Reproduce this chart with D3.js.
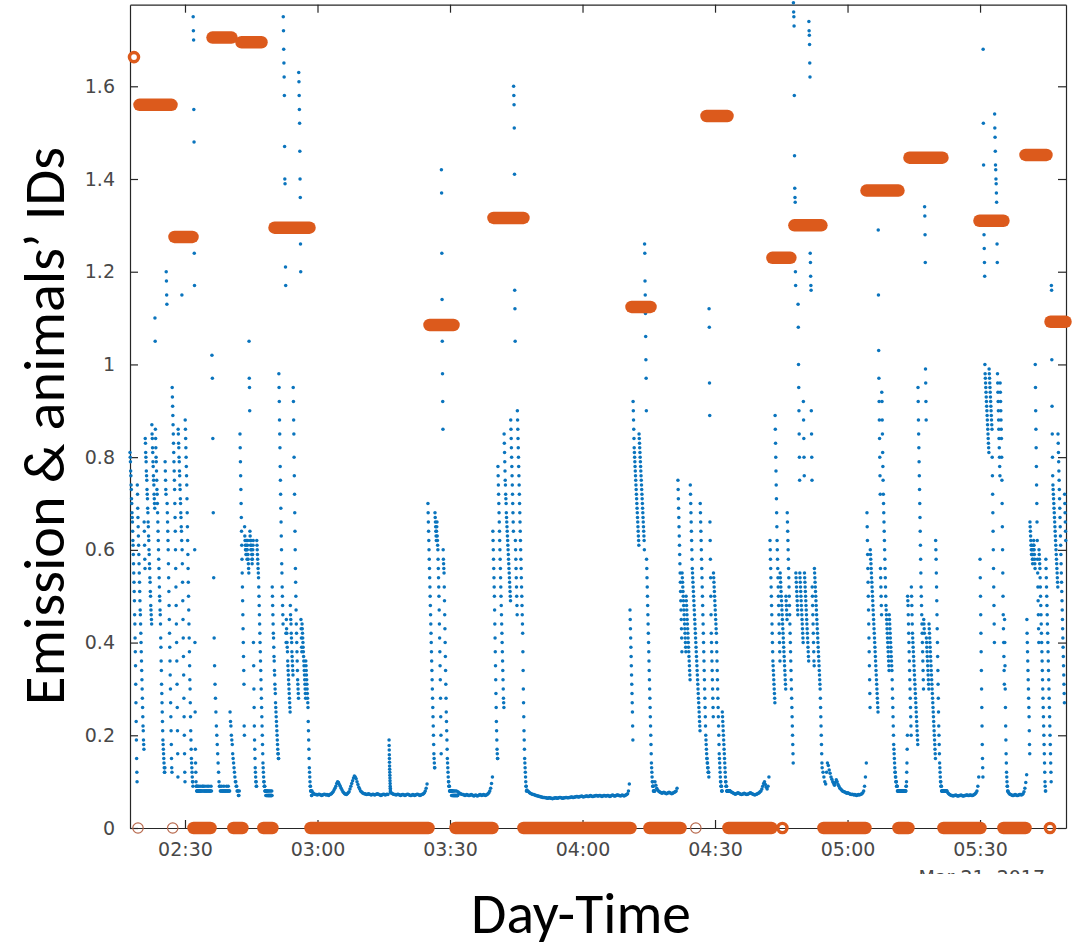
<!DOCTYPE html>
<html><head><meta charset="utf-8">
<script src="https://cdn.jsdelivr.net/npm/d3@7"></script>
<style>html,body{margin:0;padding:0;background:#fff;}svg{display:block;}</style>
</head><body>
<svg id="chart" width="1079" height="951"></svg>
<script>
// ---------------- DATA ----------------
// time in minutes after 02:00 (21 Mar 2017)
const xTickMinutes = [30, 60, 90, 120, 150, 180, 210];
const xTickLabels = ["02:30", "03:00", "03:30", "04:00", "04:30", "05:00", "05:30"];
const yTickValues = [0, 0.2, 0.4, 0.6, 0.8, 1, 1.2, 1.4, 1.6];
const yTickLabels = ["0", "0.2", "0.4", "0.6", "0.8", "1", "1.2", "1.4", "1.6"];
const dateLabel = "Mar 21, 2017";
const yTitle = "Emission & animals\u2019 IDs";
const xTitle = "Day-Time";

// Emission samples: start minute, sampling step (min), unit divisor, values
const emA1 = {start: 17.55, step: 0.05, unit: 100, v: [81,80,79,77,76,74,73,71,70,68,67,66,64,62,61,59,57,55,53,51,49,46,44,41,38,35,31,27,23,19,15,12,10,
74,72,69,67,65,63,61,59,57,55,53,51,49,47,46,44,42,40,38,36,34,32,30,28,26,24,22,21,19,18,17,66,64,61,58,56,
84,83,81,80,79,77,76,75,73,72,71,69,68,66,65,63,62,60,59,57,56,54,53,51,50,48,47,46,45,44,87,85,84,82,81,79,78,76,75,74,72,71,70,69,110,105,86,84,82,80,79,77,75,73,72,70,68,66,64,62,60,58,56,54,52,50,49,47,
46,44,41,39,36,34,31,29,27,25,23,21,19,18,17,16,15,14,13,12,12,13,
79,77,75,73,72,120,118,115,113,70,68,66,64,62,60,57,54,51,48,45,42,39,36,33,30,27,24,21,18,15,13,12,
95,93,91,89,87,85,83,81,79,77,75,73,70,67,64,60,56,52,48,44,40,36,31,26,21,16,11,
86,85,83,82,80,79,77,76,74,73,71,70,68,67,65,64,62,115,60,57,53,49,45,41,37,33,28,24,20,16,12,10,
88,86,84,82,80,78,76,74,71,68,65,62,59,56,53,50,47,44,41,38,35,32,
30,27,24,21,19,17,15,14,13,12,11,10,10,9,
175,172,170,155,148,124,117,60,40,25,17,14,12,10,9,
9,8,8,9,8,8,8,9,8,8,8,8,9,8,8,8]};
const emA2 = {start: 33.40, step: 0.1, unit: 100, v: [8,8,9,8,8,8,9,9,8,8,8,9,8,8,8,8,9,8,8,8,9,8,8,8,8,9,8,
102,97,84,68,54,41,35,31,28,25,22,20,18,16,14,12,10,9,
9,8,8,8,9,8,8,8,8,9,8,8,8,8,8,9,8,8,8,9,8,8,8,
25,23,22,20,19,18,16,15,14,13,12,11,10,10,9,9,8,8,8,7,7,8]};
const emA3 = {start: 42.45, step: 0.05, unit: 100, v: [85,82,79,76,73,70,67,64,61,58,55,52,49,46,43,40,37,34,31,
22,20,65,63,62,61,60,60,59,61,62,60,59,58,60,61,62,59,58,57,56,55,
105,97,95,90,64,63,62,61,60,62,61,60,59,58,57,58,59,60,61,62,
40,35,30,26,22,19,17,15,13,12,11,10,10,9,9,62,61,60,59,58,
57,56,55,54,52,50,48,46,44,42,40,38,36,34,32,30,28,26,24,22,20,18,16,14,13,12,11,10,10,9,9,9,8,
8,8,8,7,8,8,7,7,8,8,7,7,8,7,7,7,8,7,7,7,8,7,7,7,7,8,7,7,7,7,8,7,
52,50,48,46,44,42,41,39,37,36,34,33,31,30,29,27,26,25,24,23,22,21,20,19,18,17,16,16,15,15,
98,95,92,88,85,82,78,75,72,69,66,63,60,57,55,52,50,48,46,44,
175,172,168,165,162,158,147,140,139,130,121,117,42,40,
45,43,42,40,39,38,36,35,34,33,32,31,30,29,28,27,26,25,48,46,45,44,42,41,40,38,37,36,35,34,33,
95,92,88,85,80,76,72,68,64,60,56,53,50,47,44,42,40,38,36,34,32,31,30,29,28,
163,161,158,155,152,146,140,136,126,120,45,43,41,39,38,
44,43,42,41,40,39,38,37,36,35,34,33,32,31,30,29,28,36,35,34,33,32,31,30,29,28,27,26,
23,21,19,17,15,13,12,11,10,9,9,8,8,8,8,7,7]};
const emB1 = {start: 58.75, step: 0.2, unit: 1000, v: [80,76,74,73,72,72,71,72,73,72,71,70,71,72,73,72,71,72,71,70,72,73,74,76,78,82,86,90,
96,100,98,94,90,86,82,78,76,
74,73,72,74,76,78,84,90,
96,102,108,112,110,106,100,94,88,84,80,78,
76,75,74,74,73,72,73,74,73,72,71,72,73,72,71,72,73,74,73,72,71,70,71,72,73,72,71,72,73,72]};
const emS1 = {start: 76.2, step: 0.02, unit: 1000, v: [190,178,168,158,150,142,134,127,120,114,108,102,96,90,86,82,79,77]};
const emB2 = {start: 76.6, step: 0.2, unit: 1000, v: [76,75,74,73,72,72,71,72,73,72,71,70,71,72,72,71,70,71,72,73,72,71,70,70,71,72,71,70,71,72,73,72,71,70,71,72,73,74,76,80,86,95]};
const emC = {start: 85.0, step: 0.05, unit: 100, v: [70,68,66,64,62,60,58,56,54,52,50,48,46,44,42,40,38,36,34,32,30,28,26,24,22,20,18,16,15,14,13,13,
68,67,66,65,64,63,62,64,65,66,63,62,61,60,58,56,54,52,50,47,44,41,38,35,32,28,24,20,16,
142,137,124,114,105,98,92,86,60,58,57,56,
55,52,49,46,43,40,37,34,31,28,25,23,21,19,17,15,14,13,12,11,10,10,9,9,9,8,8,8,
8,8,8,8,8,8,7,8,8,7,8,7,7,8,7,7,7,8,7,7,7,7,8,7,7,7,7,7,8,7,7,7,7,7,7]};
const emD = {start: 91.8, step: 0.2, unit: 1000, v: [78,76,75,74,73,72,72,71,70,71,72,71,70,70,71,72,71,70,69,70,71,70,69,70,71,72,71,70,71,72,71,70,71,72,74,76,80,86,96,110]};
const emE = {start: 99.7, step: 0.05, unit: 100, v: [64,62,60,58,56,54,52,50,47,44,41,38,35,32,29,26,23,21,19,17,16,15,15,
78,76,74,72,70,68,66,64,62,60,58,56,54,52,50,48,46,44,42,40,38,36,34,32,30,28,27,26,
85,83,81,79,77,75,74,72,71,70,68,67,66,65,64,63,62,61,60,59,58,57,56,55,54,53,52,51,50,49,
88,86,84,82,80,78,76,74,72,70,68,66,64,
160,158,156,151,141,116,112,105,62,60,58,56,54,52,50,48,46,
90,88,86,84,82,80,78,76,74,72,70,68,66,64,62,60,58,56,54,52,50,48,46,44,42,
38,34,30,27,24,21,19,17,15,14,13,12,11,10,9,9,8,8]};
const emF = {start: 107.4, step: 0.2, unit: 1000, v: [82,80,78,76,75,74,73,72,72,71,70,70,69,69,68,68,67,67,66,66,
66,65,65,64,64,65,65,64,64,63,64,64,65,65,64,64,65,66,66,65,64,64,65,65,66,66,65,65,66,66,67,67,66,66,67,67,68,68,67,67,
68,68,69,68,67,68,68,69,69,68,68,69,70,69,68,68,69,69,70,70,69,69,70,70,69,68,69,70,70,69,69,70,70,69,68,69,70,71,70,69,69,70,71,71,70,70,69,70,71,70,69,70,71,72,74,80,95]};
const emG = {start: 130.75, step: 0.05, unit: 100, v: [47,45,43,41,39,37,35,33,31,29,27,25,22,19,
92,90,88,86,84,82,81,80,79,78,77,76,75,74,73,72,71,70,69,68,67,66,65,64,63,62,61,
85,84,83,82,81,80,79,78,77,76,75,74,73,72,71,70,69,68,67,66,65,64,63,62,60,
126,124,118,115,111,106,101,97,90,58,56,54,
52,50,48,46,44,42,40,38,36,34,32,30,28,26,24,22,20,18,
16,14,13,12,11,10,10,9,9,9,8,8,8,8,8,8,8]};
const emH = {start: 136.4, step: 0.2, unit: 1000, v: [100,92,86,82,80,78,77,76,75,76,77,76,75,74,75,76,77,76,75,74,75,76,77,78,80,86]};
const emI = {start: 141.6, step: 0.05, unit: 100, v: [75,73,71,69,67,65,63,61,59,57,55,53,51,49,47,45,43,41,38,
55,54,53,52,51,50,49,48,47,46,45,44,43,42,41,40,39,38,50,49,48,47,46,45,44,43,42,41,40,39,38,37,36,35,34,33,32,
74,72,70,68,66,64,62,60,58,56,55,54,53,52,51,50,49,48,47,46,45,44,43,42,41,40,39,38,37,36,35,34,33,32,31,30,29,28,27,26,25,24,23,22,21,
70,68,66,64,62,60,58,56,54,52,50,48,46,44,42,40,38,36,34,32,30,28,26,24,22,20,19,18,17,16,15,15,14,14,13,13,12,12,12,11,
112,108,96,89,66,62,58,54,50,46,42,40,38,36,34,32,30,28,26,24,
55,54,53,52,51,50,49,48,47,46,45,44,43,42,40,38,36,34,32,30,28,26,24,22,20,18,16,15,14,13,
12,11,10,10,9,9,9,8,8,8,25,24,23,22,21,20,19,18,17,16,15,14,13,12,11,
10,10,9,9,9,8,8,8,8,8,8,8,8,8,8,8,8,8,8,8]};
const emJ = {start: 153.4, step: 0.2, unit: 1000, v: [80,78,77,76,75,74,73,74,75,76,75,74,73,72,73,74,75,74,73,72,73,74,75,76,75,74,73,72,71,72,73,74,75,76,78,80,84,90,96,100,94,88,84,90,110]};
const emK = {start: 162.45, step: 0.05, unit: 100, v: [62,60,58,56,54,52,50,48,46,44,42,40,38,36,35,34,33,32,31,30,29,28,27,
89,86,83,80,77,74,71,68,65,62,60,58,56,54,52,50,48,46,44,42,40,38,36,
55,54,53,52,51,50,49,48,47,46,45,44,43,42,41,40,39,38,37,36,35,34,33,32,31,30,50,49,48,47,46,45,
68,66,64,62,60,58,56,54,52,50,48,46,44,42,40,38,36,34,32,30,28,26,24,22,20,18,16,14,
178,176,175,173,158,145,138,136,135,120,117,55,54,53,52,51,50,49,48,47,46,
113,108,100,95,90,85,80,75,55,54,53,52,51,50,49,48,47,46,45,44,43,42,41,40,
92,88,84,80,76,55,54,53,52,51,50,49,48,47,46,45,44,43,42,41,40,39,38,37,36,
174,172,171,169,165,162,124,122,119,117,116,90,85,80,75,52,50,48,46,44,42,40,38,36,35,
56,55,54,53,52,51,50,49,48,47,46,45,44,43,42,41,40,39,38,37,36,35,34,33,32,31,30,28,26,24,22,20,18,16,14]};
const emL = {start: 174.25, step: 0.2, unit: 1000, v: [130,120,110,100,95,120,140,135,125,118,110,105,100,96,92,98,104,100,94,90,86,84,82,80,79,78,77,76,75,76,75,74,73,72,73,72,71,72,71,70,71,72,71,72,73,74,76,80,90,110,140]};
const emM = {start: 184.4, step: 0.05, unit: 100, v: [68,65,62,59,56,53,50,47,44,41,38,35,32,29,26,
60,59,58,57,56,55,54,53,52,51,50,49,48,47,46,45,44,43,42,41,40,39,38,37,36,35,34,33,32,31,30,29,28,27,26,25,
129,115,103,97,92,88,84,80,76,72,56,54,52,50,48,46,
94,92,88,85,81,78,75,72,70,68,66,64,62,60,58,56,54,52,50,48,47,46,45,44,43,42,41,40,39,38,37,36,35,34,
46,45,44,43,42,41,40,39,38,37,36,35,34,32,30,28,26,24,22,20,18,17,16,15,14,
13,12,12,11,11,10,10,10,9,9,9,9,8,8,8,8,8,8,8,8,8,8,8,8,8,8,8,8,8,8,8,8,8,8,8,8,8,8,8,8,8,8,8,8,8,
8,8,8,8,8,8,9,9,10,12,14,17,20,50,49,48,46,44,42,40,38,36,34,32,30,28,26,24,22,20,
52,50,48,46,44,42,41,40,39,38,37,36,35,34,33,32,31,30,29,28,27,26,25,24,23,22,21,20,19,18,
95,92,88,85,82,79,76,73,70,67,64,61,58,55,52,50,48,46,44,42,40,38,36,34,32,30,45,44,43,42,
134,132,128,122,99,96,92,88,41,40,39,38,37,36,35,34,33,32,31,30,
44,43,42,41,40,39,38,37,36,35,34,33,32,31,30,29,28,27,26,25,24,23,22,21,20,19,18,17,16,15,
62,60,58,55,52,49,46,43,40,37,34,31,28,25,22,20,18,16,14,13,12,11,10,10,9,9,9,8,8,8,
8,8,8,8,8,8,8,8,8,8,8,8,8,8,8,8,8,8,8,8,8]};
const emN = {start: 202.5, step: 0.2, unit: 1000, v: [80,76,74,72,71,70,70,69,70,70,71,70,69,69,70,70,71,70,69,69,70,70,71,71,70,70,71,71,70,70,71,72,74,76,80,90,110]};
const emO = {start: 210.0, step: 0.05, unit: 100, v: [58,54,50,46,42,38,34,30,26,22,18,15,13,11,
168,152,143,131,128,125,122,119,100,98,97,96,95,94,93,92,91,90,89,88,87,86,85,84,83,82,81,
99,98,97,96,95,94,93,92,91,90,89,88,87,86,80,76,72,68,64,60,56,52,48,44,40,
154,151,149,146,143,142,140,139,137,135,130,126,122,98,96,94,92,90,88,86,84,82,80,78,76,
96,94,92,90,88,86,84,80,75,70,65,60,55,50,46,43,40,37,34,31,
45,40,35,30,26,22,19,16,14,12,11,10,9,9,8,8]};
const emP = {start: 216.35, step: 0.2, unit: 1000, v: [78,75,73,72,71,70,70,71,72,71,70,70,71,72,72,71,72,74,78,86,98,115]};
const emQ = {start: 220.6, step: 0.05, unit: 100, v: [45,42,40,38,36,34,32,30,28,26,24,21,18,16,
66,65,64,63,62,61,60,59,61,60,59,58,57,58,59,60,61,62,61,60,59,58,57,56,100,95,90,86,82,78,74,70,66,62,58,55,52,49,46,43,40,60,59,58,57,
56,54,52,50,48,46,44,42,40,38,36,34,32,30,28,26,24,22,20,18,16,14,12,10,9,8,8,
58,56,54,52,50,48,46,44,42,40,38,36,34,32,30,28,26,24,22,20,18,16,14,12,10,
117,116,101,91,85,80,76,74,73,72,71,70,69,68,67,66,65,64,63,62,61,60,59,58,57,56,55,54,53,52,
85,83,81,79,77,75,73,71,69,67,65,63,61,59,57,55,53,51,49,47,45,43,41,39,37,35,33,31,29,27,72,70,68,66,64,62]};

// Animal IDs: [start minute, end minute, ID level]
const idBars = [
  [19.70, 26.95, 1.56], [27.62, 31.70, 1.275], [36.23, 40.53, 1.705], [42.79, 47.32, 1.695],
  [50.27, 58.19, 1.295], [85.36, 90.79, 1.085], [99.84, 106.63, 1.316], [131.09, 135.39, 1.124],
  [148.07, 152.82, 1.536], [162.99, 167.06, 1.23], [167.97, 174.08, 1.30], [184.29, 191.53, 1.375],
  [194.02, 201.49, 1.446], [209.87, 215.30, 1.31], [220.29, 225.04, 1.452], [225.95, 229.35, 1.092]
];
// No animal (ID 0): [start minute, end minute]
const zeroBars = [
  [31.93, 35.78], [40.96, 42.99], [47.75, 49.79], [58.41, 85.13], [91.24, 99.62], [106.63, 130.86],
  [135.16, 142.18], [153.04, 162.78], [174.55, 184.06], [191.53, 193.79], [201.71, 210.09], [215.30, 220.29]
];
// single isolated ID samples: [minute, level]
const boldRings = [[18.45, 1.663], [165.25, 0], [225.83, 0]];
const thinRings = [[19.36, 0], [27.22, 0], [145.65, 0]];

// ---------------- CHART ----------------
const emissionSegments = [emA1, emA2, emA3, emB1, emS1, emB2, emC, emD, emE, emF, emG, emH, emI, emJ, emK, emL, emM, emN, emO, emP, emQ];
const base = new Date(2017, 2, 21, 2, 0, 0);
const tm = m => new Date(base.getTime() + m * 60000);

const svg = d3.select("#chart");
svg.append("rect").attr("width", 1079).attr("height", 951).attr("fill", "#fff");

const x = d3.scaleTime().domain([tm(17.55), tm(229.46)]).range([130, 1066]);
const y = d3.scaleLinear().domain([0, 1.776]).range([828, 4.7]);

const BLUE = "#0a74bd", ORANGE = "#dc5a1c", AXIS = "#262626", LABEL = "#484848";

// axes (box with inward ticks)
const xTicks = xTickMinutes.map(tm);
const gx = svg.append("g").attr("transform", "translate(0,828)")
  .call(d3.axisBottom(x).tickValues(xTicks).tickFormat((d, i) => xTickLabels[i])
    .tickSizeInner(-8).tickSizeOuter(0).tickPadding(15));
const gxt = svg.append("g").attr("transform", "translate(0,4.7)")
  .call(d3.axisTop(x).tickValues(xTicks).tickFormat("").tickSizeInner(-8).tickSizeOuter(0));
const gy = svg.append("g").attr("transform", "translate(130,0)")
  .call(d3.axisLeft(y).tickValues(yTickValues).tickFormat((d, i) => yTickLabels[i])
    .tickSizeInner(-8).tickSizeOuter(0).tickPadding(15));
const gyr = svg.append("g").attr("transform", "translate(1066,0)")
  .call(d3.axisRight(y).tickValues(yTickValues).tickFormat("").tickSizeInner(-8).tickSizeOuter(0));
[gx, gxt, gy, gyr].forEach(g => {
  g.selectAll(".domain").attr("stroke", AXIS).attr("stroke-width", 1.2);
  g.selectAll(".tick line").attr("stroke", AXIS).attr("stroke-width", 1.2);
  g.selectAll(".tick text").attr("fill", LABEL).attr("font-family", "DejaVu Sans, sans-serif").attr("font-size", 19);
});

// date label (cut off at the bottom as in the source image)
svg.append("clipPath").attr("id", "dateclip").append("rect")
  .attr("x", 880).attr("y", 858).attr("width", 199).attr("height", 16);
svg.append("text").attr("clip-path", "url(#dateclip)")
  .attr("x", x(tm(229.46)) - 21).attr("y", 884).attr("text-anchor", "end")
  .attr("fill", LABEL).attr("font-family", "DejaVu Sans, sans-serif").attr("font-size", 19)
  .text(dateLabel);

// emission points
const pts = emissionSegments.flatMap(s => s.v.map((v, i) => ({t: s.start + i * s.step, v: v / s.unit})));
svg.append("g").selectAll("circle").data(pts).join("circle")
  .attr("cx", d => x(tm(d.t))).attr("cy", d => y(d.v)).attr("r", 1.75).attr("fill", BLUE);

// animal ID markers
const og = svg.append("g");
og.selectAll("line.id").data(idBars).join("line").attr("class", "id")
  .attr("x1", d => x(tm(d[0]))).attr("x2", d => x(tm(d[1])))
  .attr("y1", d => y(d[2])).attr("y2", d => y(d[2]))
  .attr("stroke", ORANGE).attr("stroke-width", 12.5).attr("stroke-linecap", "round");
og.selectAll("line.zero").data(zeroBars).join("line").attr("class", "zero")
  .attr("x1", d => x(tm(d[0]))).attr("x2", d => x(tm(d[1])))
  .attr("y1", y(0)).attr("y2", y(0))
  .attr("stroke", ORANGE).attr("stroke-width", 12.5).attr("stroke-linecap", "round");
og.selectAll("circle.bold").data(boldRings).join("circle").attr("class", "bold")
  .attr("cx", d => x(tm(d[0]))).attr("cy", d => y(d[1])).attr("r", 4.6)
  .attr("fill", "none").attr("stroke", ORANGE).attr("stroke-width", 3.4);
og.selectAll("circle.thin").data(thinRings).join("circle").attr("class", "thin")
  .attr("cx", d => x(tm(d[0]))).attr("cy", d => y(d[1])).attr("r", 5.2)
  .attr("fill", "none").attr("stroke", "#b86a4e").attr("stroke-width", 1.2);

// titles
const TF = "Carlito, Calibri, Lato, 'Open Sans', sans-serif";
function fitWidth(sel, target) {
  const w = sel.node().getComputedTextLength();
  const fs = parseFloat(sel.attr("font-size"));
  sel.attr("font-size", fs * target / w);
}
const yt = svg.append("text").attr("transform", "translate(64,426) rotate(-90)")
  .attr("text-anchor", "middle").attr("font-family", TF).attr("font-size", 56).attr("fill", "#000")
  .text(yTitle);
fitWidth(yt, 558);
const xt = svg.append("text").attr("x", 581).attr("y", 933)
  .attr("text-anchor", "middle").attr("font-family", TF).attr("font-size", 56).attr("fill", "#000")
  .text(xTitle);
fitWidth(xt, 220);
</script>
</body></html>
